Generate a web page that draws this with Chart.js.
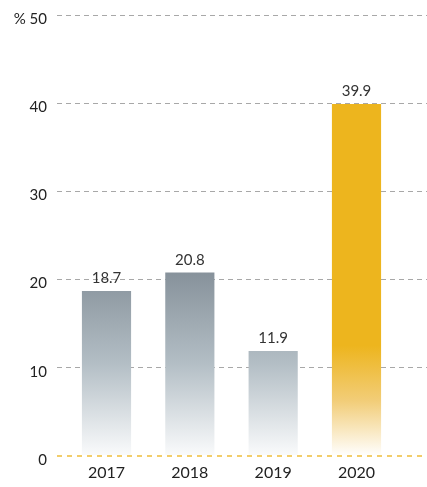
<!DOCTYPE html>
<html>
<head>
<meta charset="utf-8">
<script src="https://cdn.jsdelivr.net/npm/chart.js@4"></script>
<style>
  html, body { margin: 0; padding: 0; background: #fff; }
  #wrap { width: 427px; height: 487px; }
</style>
</head>
<body>
<div id="wrap"><canvas id="rateChart" width="427" height="487"></canvas></div>
<script>
const years = ['2017', '2018', '2019', '2020'];
const rates = [18.7, 20.8, 11.9, 39.9];
const yTicks = [0, 10, 20, 30, 40, 50];

const FONT = 'Lato, "Noto Sans", sans-serif';

// bar fill: grey fade for old years, yellow fade for the last one
function barFill(ctx) {
	const chart = ctx.chart;
	const area = chart.chartArea;
	if (!area) return '#8a959d';
	const y = chart.scales.y;
	const c = chart.ctx;
	if (ctx.dataIndex === years.length - 1) {
		const g = c.createLinearGradient(0, y.getPixelForValue(12.5), 0, y.getPixelForValue(0));
		g.addColorStop(0, 'rgba(237,181,30,1)');
		g.addColorStop(0.5, 'rgba(242,205,120,1)');
		g.addColorStop(1, 'rgba(255,255,255,1)');
		return g;
	}
	const g = c.createLinearGradient(0, y.getPixelForValue(21), 0, y.getPixelForValue(0));
	g.addColorStop(0, '#86919a');
	g.addColorStop(0.5, '#b3bec5');
	g.addColorStop(1, '#fafbfc');
	return g;
}

const valueLabels = {
	id: 'valueLabels',
	afterDatasetsDraw(chart) {
		const c = chart.ctx;
		const meta = chart.getDatasetMeta(0);
		c.save();
		c.font = '15px ' + FONT;
		c.fillStyle = '#333';
		c.textAlign = 'center';
		c.textBaseline = 'alphabetic';
		meta.data.forEach((bar, i) => {
			c.fillText(String(rates[i]), bar.x, bar.y - 8);
		});
		c.restore();
	}
};

new Chart(document.getElementById('rateChart'), {
	type: 'bar',
	data: {
		datasets: [{
			data: rates.map((v, i) => ({ x: i, y: v })),
			backgroundColor: barFill,
			borderWidth: 0,
			categoryPercentage: 1,
			barPercentage: 0.59
		}]
	},
	options: {
		responsive: false,
		animation: false,
		layout: { padding: { top: 15, right: 0, left: 0, bottom: 0 } },
		plugins: {
			legend: { display: false },
			tooltip: { enabled: false }
		},
		scales: {
			x: {
				type: 'linear',
				offset: false,
				min: -0.594,
				max: 3.846,
				grid: { display: false, drawTicks: false },
				border: { display: false },
				afterBuildTicks: axis => { axis.ticks = years.map((_, i) => ({ value: i })); },
				afterFit: axis => { axis.height = 31; axis.paddingLeft = 0; axis.paddingRight = 0; },
				ticks: {
					autoSkip: false,
					maxRotation: 0,
					padding: 7,
					color: '#222',
					font: { family: FONT, size: 16 },
					callback: v => years[v]
				}
			},
			y: {
				min: 0,
				max: 50,
				afterBuildTicks: axis => { axis.ticks = yTicks.map(v => ({ value: v })); },
				afterFit: axis => { axis.width = 57; axis.paddingTop = 0; axis.paddingBottom = 0; },
				grid: {
					drawTicks: false,
					color: ctx => ctx.tick.value === 0 ? '#f2cd6a' : '#a8a8a8',
					lineWidth: ctx => ctx.tick.value === 0 ? 2 : 1
				},
				border: {
					display: false,
					dash: ctx => ctx.tick && ctx.tick.value === 0 ? [5, 5] : [5, 4]
				},
				ticks: {
					padding: 10,
					labelOffset: 4,
					color: '#222',
					font: { family: FONT, size: 15 },
					callback: v => v === 50 ? '% 50' : v
				}
			}
		}
	},
	plugins: [valueLabels]
});
</script>
</body>
</html>
